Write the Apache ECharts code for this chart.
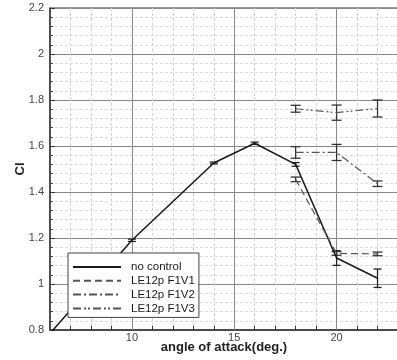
<!DOCTYPE html>
<html>
<head>
<meta charset="utf-8">
<script src="https://cdn.jsdelivr.net/npm/echarts@6/dist/echarts.min.js"></script>
<style>
html,body{margin:0;padding:0;background:#fff;}
#chart{width:397px;height:360px;}
</style>
</head>
<body>
<div id="chart"></div>
<script>
// ---- data ----
const seriesNames = ['no control', 'LE12p F1V1', 'LE12p F1V2', 'LE12p F1V3'];
const ncAngle = [6, 10, 14, 16, 18, 20, 22];
const ncCl    = [0.785, 1.19, 1.526, 1.612, 1.52, 1.113, 1.025];
const ncErr   = [null, 0.005, 0.004, 0.005, 0.008, 0.032, 0.04];
const v1Angle = [18, 20, 22];
const v1Cl    = [1.455, 1.133, 1.131];
const v1Err   = [0.01, 0.008, 0.008];
const v2Angle = [18, 20, 22];
const v2Cl    = [1.572, 1.572, 1.436];
const v2Err   = [0.025, 0.035, 0.012];
const v3Angle = [18, 20, 22];
const v3Cl    = [1.762, 1.745, 1.763];
const v3Err   = [0.015, 0.033, 0.037];
const majorX  = [10, 15, 20];
const xLabels = [10, 15, 20];

// ---- build ----
function pts(a, c) { return a.map((x, i) => [x, c[i]]); }
function errs(a, c, e) {
  const out = [];
  a.forEach((x, i) => { if (e[i] != null) out.push([x, c[i] - e[i], c[i] + e[i]]); });
  return out;
}
function errSeries(data, color, capHalf) {
  return {
    type: 'custom',
    silent: true,
    z: 3,
    data: data,
    renderItem: function (params, api) {
      const lo = api.coord([api.value(0), api.value(1)]);
      const hi = api.coord([api.value(0), api.value(2)]);
      const st = { stroke: color, lineWidth: 1.3 };
      return {
        type: 'group',
        children: [
          { type: 'line', shape: { x1: lo[0], y1: lo[1], x2: hi[0], y2: hi[1] }, style: st },
          { type: 'line', shape: { x1: lo[0] - capHalf, y1: lo[1], x2: lo[0] + capHalf, y2: lo[1] }, style: st },
          { type: 'line', shape: { x1: hi[0] - capHalf, y1: hi[1], x2: hi[0] + capHalf, y2: hi[1] }, style: st }
        ]
      };
    }
  };
}

const font = 'Liberation Sans, Arial, sans-serif';
const chart = echarts.init(document.getElementById('chart'), null, { renderer: 'canvas' });
chart.setOption({
  backgroundColor: '#fff',
  animation: false,
  grid: {
    left: 50, top: 8, right: -1, bottom: 30,
    outerBoundsMode: 'none', containLabel: false,
    show: true, borderColor: '#333', borderWidth: 1, backgroundColor: 'transparent'
  },
  legend: {
    z: 20, zlevel: 0,
    orient: 'vertical',
    left: 68, top: 253,
    backgroundColor: '#fff',
    borderColor: '#444', borderWidth: 1,
    padding: [8, 4, 3, 4],
    itemWidth: 48, itemHeight: 12, itemGap: 1.8,
    itemStyle: { opacity: 0 },
    data: seriesNames,
    textStyle: { fontFamily: font, fontSize: 11.5, color: '#1a1a1a', padding: [0, 0, 0, 5] }
  },
  xAxis: {
    type: 'value', min: 6, max: 23, interval: 1,
    name: 'angle of attack(deg.)', nameLocation: 'middle', nameGap: 11, nameMoveOverlap: false,
    nameTextStyle: { fontFamily: font, fontSize: 13, fontWeight: 'bold', color: '#222' },
    axisLine: { show: true, onZero: false, lineStyle: { color: '#333', width: 1.5 } },
    axisTick: { show: true, inside: true, length: 4, lineStyle: { color: '#333' } },
    axisLabel: {
      fontFamily: font, fontSize: 11, color: '#444', margin: 2,
      formatter: v => (xLabels.indexOf(v) >= 0 ? String(v) : ''),
      showMinLabel: false, showMaxLabel: false
    },
    splitLine: { show: true, lineStyle: { color: '#d4d4d4', type: [3, 2], width: 1 } }
  },
  yAxis: {
    type: 'value', min: 0.8, max: 2.2, interval: 0.2,
    name: 'Cl', nameLocation: 'middle', nameGap: 23, nameRotate: 90, nameMoveOverlap: false,
    nameTextStyle: { fontFamily: font, fontSize: 13, fontWeight: 'bold', color: '#222' },
    axisLine: { show: true, lineStyle: { color: '#333', width: 1.5 } },
    axisTick: { show: true, inside: true, length: 5, lineStyle: { color: '#333' } },
    minorTick: { show: true, splitNumber: 5, length: 3, lineStyle: { color: '#444' } },
    axisLabel: { fontFamily: font, fontSize: 11, color: '#444', margin: 6, formatter: v => String(+v.toFixed(1)) },
    splitLine: { show: true, lineStyle: { color: '#888', width: 1 } },
    minorSplitLine: { show: true, lineStyle: { color: '#dcdcdc', width: 1, type: [3, 2] } }
  },
  series: [
    {
      name: seriesNames[0], type: 'line', symbol: 'none', z: 3,
      data: pts(ncAngle, ncCl),
      lineStyle: { color: '#1a1a1a', width: 1.5 }, itemStyle: { color: '#1a1a1a' },
      markLine: {
        silent: true, symbol: 'none', label: { show: false }, animation: false, z: 1,
        lineStyle: { color: '#8a8a8a', type: 'solid', width: 1 },
        data: majorX.map(v => ({ xAxis: v }))
      }
    },
    {
      name: seriesNames[1], type: 'line', symbol: 'none', z: 3,
      data: pts(v1Angle, v1Cl),
      lineStyle: { color: '#555', width: 1.2, type: [7, 4] }, itemStyle: { color: '#555' }
    },
    {
      name: seriesNames[2], type: 'line', symbol: 'none', z: 3,
      data: pts(v2Angle, v2Cl),
      lineStyle: { color: '#555', width: 1.2, type: [8, 3, 2, 3] }, itemStyle: { color: '#555' }
    },
    {
      name: seriesNames[3], type: 'line', symbol: 'none', z: 3,
      data: pts(v3Angle, v3Cl),
      lineStyle: { color: '#555', width: 1.2, type: [8, 3, 2, 2, 2, 3] }, itemStyle: { color: '#555' }
    },
    errSeries(errs(ncAngle, ncCl, ncErr), '#222', 4),
    errSeries(errs(v1Angle, v1Cl, v1Err), '#333', 5),
    errSeries(errs(v2Angle, v2Cl, v2Err), '#333', 5),
    errSeries(errs(v3Angle, v3Cl, v3Err), '#333', 5)
  ]
});
</script>
</body>
</html>
